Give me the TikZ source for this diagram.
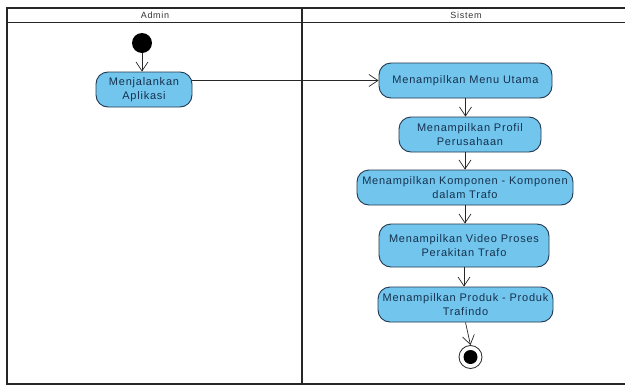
\documentclass[tikz,border=0pt]{standalone}
\usepackage{fontspec}
\setmainfont{Liberation Sans}
\usetikzlibrary{arrows.meta}
\definecolor{actfill}{HTML}{72C6EE}
\definecolor{actdraw}{HTML}{23384F}
\definecolor{acttext}{HTML}{16304D}
\begin{document}
\begin{tikzpicture}[x=1pt,y=-1pt,
  act/.style={draw=actdraw, line width=0.9pt, fill=actfill, rounded corners=12pt,
    text=acttext, align=center, inner sep=2pt,
    font=\fontsize{11}{13.8}\selectfont\addfontfeatures{LetterSpace=7}},
  flow/.style={draw=black!85, line width=0.7pt, -{Straight Barb[length=9pt,width=12pt]}},
  lane/.style={draw=black!85, line width=1.2pt},
  hdr/.style={font=\fontsize{9}{10}\selectfont\addfontfeatures{LetterSpace=8}, text=black!80}]
\useasboundingbox (0,0) rectangle (625,386);
\fill[white] (0,0) rectangle (625,386);
% swimlanes
\draw[lane] (7,8) rectangle (630,384);
\draw[lane] (7,22.5) -- (630,22.5);
\draw[lane] (302,8) -- (302,384);
\node[hdr] (hadmin) at (155,15.5) {Admin};
\node[hdr] (hsys) at (466,15.5) {Sistem};
% nodes
\node[circle, fill=black, minimum size=20pt, inner sep=0pt] (start) at (142,43) {};
\node[act, minimum width=96pt, minimum height=35pt] (app) at (144,89.5) {Menjalankan\\Aplikasi};
\node[act, minimum width=173pt, minimum height=35pt] (menu) at (465.5,80.5) {Menampilkan Menu Utama};
\node[act, minimum width=142pt, minimum height=35pt] (profil) at (470,134.5) {Menampilkan Profil\\Perusahaan};
\node[act, minimum width=216pt, minimum height=35pt] (komp) at (465,187.5) {Menampilkan Komponen - Komponen\\dalam Trafo};
\node[act, minimum width=170pt, minimum height=43pt] (video) at (464,245.5) {Menampilkan Video Proses\\Perakitan Trafo};
\node[act, minimum width=175pt, minimum height=35pt] (produk) at (465.5,304.5) {Menampilkan Produk - Produk\\Trafindo};
\node[circle, draw=black!85, line width=0.8pt, fill=white, minimum size=23pt, inner sep=0pt] (end) at (470.5,357) {};
\node[circle, fill=black, minimum size=14pt, inner sep=0pt] (endin) at (end) {};
% flows
\draw[flow] (start) -- (start |- app.north);
\draw[flow] (app.east |- menu.west) -- (menu.west);
\draw[flow] (menu.south) -- (menu.south |- profil.north);
\draw[flow] (komp.north |- profil.south) -- (komp.north);
\draw[flow] (komp.south) -- (komp.south |- video.north);
\draw[flow] (video.south) -- (video.south |- produk.north);
\draw[flow] (produk.south) -- (end.north);
\end{tikzpicture}
\end{document}
